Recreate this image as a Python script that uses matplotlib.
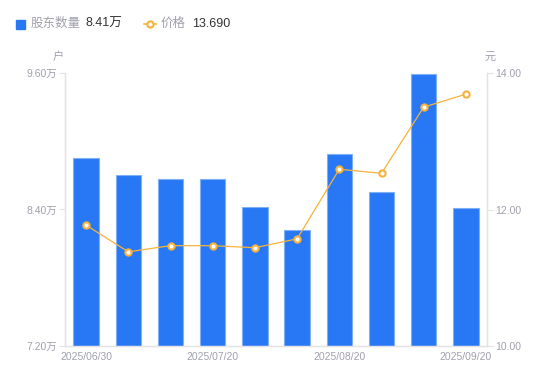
import matplotlib
matplotlib.use('Agg')
import matplotlib.pyplot as plt
from matplotlib.lines import Line2D

plt.rcParams['font.family'] = ['Liberation Sans', 'Noto Sans CJK SC', 'DejaVu Sans']

# data
dates = ['2025/06/30', '2025/07/04', '2025/07/10', '2025/07/20', '2025/07/31',
         '2025/08/10', '2025/08/20', '2025/08/31', '2025/09/10', '2025/09/20']
holders = [8.85, 8.70, 8.67, 8.67, 8.42, 8.22, 8.89, 8.55, 9.59, 8.41]  # 万户
price = [11.77, 11.38, 11.47, 11.47, 11.44, 11.57, 12.59, 12.53, 13.50, 13.69]  # 元
left_ticks = [7.20, 8.40, 9.60]
right_ticks = [10.00, 12.00, 14.00]
shown_dates = [0, 3, 6, 9]

BLUE = '#2878f5'
ORANGE = '#f7b23b'
GRAY = '#a0a0ae'
AXIS = '#e3e3e6'

fig = plt.figure(figsize=(5.5, 3.81), dpi=100)
ax = fig.add_axes([65 / 550, 35 / 381, 422 / 550, 273 / 381])
ax2 = ax.twinx()

x = list(range(len(dates)))
ax.bar(x, holders, width=0.6, color=BLUE, edgecolor='#7fb0f7', linewidth=0.8, zorder=2)
ax.set_xlim(-0.5, len(dates) - 0.5)
ax.set_ylim(left_ticks[0], left_ticks[-1])
ax.set_yticks(left_ticks)
ax.set_yticklabels(['%.2f万' % v for v in left_ticks])
ax.set_xticks(shown_dates)
ax.set_xticklabels([dates[i] for i in shown_dates])

ax2.plot(x, price, color=ORANGE, linewidth=0.9, marker='o', markersize=4.5,
         markerfacecolor='white', markeredgecolor=ORANGE, markeredgewidth=1.5, zorder=3)
ax2.set_ylim(right_ticks[0], right_ticks[-1])
ax2.set_yticks(right_ticks)
ax2.set_yticklabels(['%.2f' % v for v in right_ticks])

for a in (ax, ax2):
    for s in a.spines.values():
        s.set_color(AXIS)
        s.set_linewidth(0.9)
    a.spines['top'].set_visible(False)
    a.tick_params(colors=GRAY, labelsize=7.5, length=4, width=0.8)
    a.tick_params(axis='y', color=AXIS)
ax.tick_params(axis='x', length=0, pad=4)
ax.tick_params(axis='y', pad=2)
ax2.tick_params(axis='y', pad=2)

fig.text(58 / 550, 1 - 57 / 381, '户', color=GRAY, fontsize=8, ha='center', va='center')
fig.text(490 / 550, 1 - 57 / 381, '元', color=GRAY, fontsize=8, ha='center', va='center')

# legend header
ly = 1 - 24 / 381
fig.patches.append(plt.Rectangle((16 / 550, 1 - 29 / 381), 9 / 550, 9 / 381,
                                 transform=fig.transFigure, color=BLUE, figure=fig))
fig.text(31 / 550, ly, '股东数量', color=GRAY, fontsize=9, va='center')
fig.text(85 / 550, ly, '%.2f万' % holders[-1], color='#333333', fontsize=9, va='center')
fig.lines.append(Line2D([144 / 550, 156 / 550], [ly, ly], transform=fig.transFigure,
                        color=ORANGE, linewidth=1.2))
fig.lines.append(Line2D([150 / 550], [ly], transform=fig.transFigure, linestyle='none',
                        marker='o', markersize=4.5, markerfacecolor='white',
                        markeredgecolor=ORANGE, markeredgewidth=1.5))
fig.text(161 / 550, ly, '价格', color=GRAY, fontsize=9, va='center')
fig.text(192 / 550, ly, '%.3f' % price[-1], color='#333333', fontsize=9, va='center')

fig.savefig('out.png', dpi=100)
